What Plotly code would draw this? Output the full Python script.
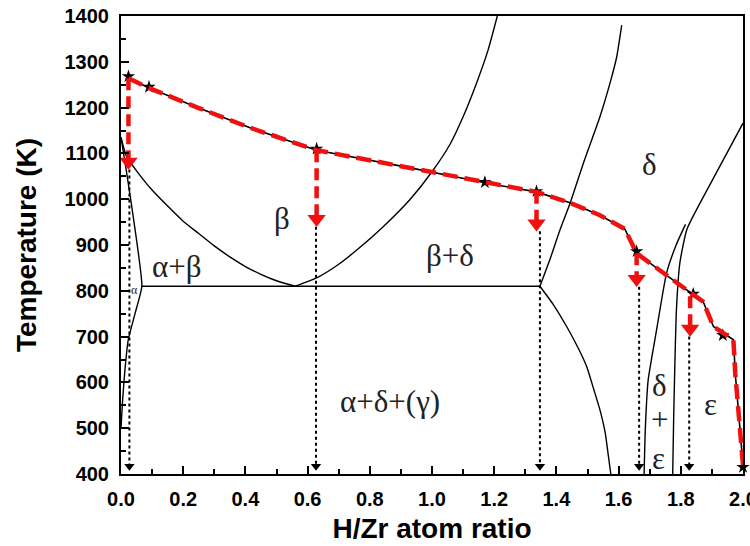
import plotly.graph_objects as go

# ---- phase boundary curves (H/Zr ratio, Temperature K) ----
beta_delta_x = [0.56, 0.634, 0.70, 0.76, 0.843, 0.93, 1.0, 1.058, 1.10, 1.144, 1.18, 1.21]
beta_delta_y = [810, 830, 858, 890, 940, 1000, 1060, 1120, 1180, 1255, 1325, 1400]

beta_ab_x = [0.0, 0.018, 0.05, 0.1, 0.15, 0.2, 0.25, 0.3, 0.35, 0.4, 0.45, 0.5, 0.56]
beta_ab_y = [1135, 1093, 1062, 1020, 985, 952, 925, 898, 874, 853, 836, 822, 810]

alpha_x = [0.0, 0.02, 0.05, 0.067, 0.045, 0.023, 0.013, 0.005, 0.0]
alpha_y = [1135, 1050, 911, 810, 750, 692, 630, 560, 500]

eutectoid_x = [0.067, 1.347]
eutectoid_y = [810, 810]

delta_up_x = [1.347, 1.38, 1.41, 1.444, 1.49, 1.54, 1.575, 1.594, 1.61]
delta_up_y = [810, 870, 930, 991, 1085, 1180, 1260, 1311, 1380]

delta_low_x = [1.347, 1.39, 1.433, 1.47, 1.497, 1.52, 1.54, 1.557, 1.567, 1.575]
delta_low_y = [810, 770, 722, 675, 635, 585, 540, 490, 440, 400]

eps_x = [2.0, 1.905, 1.82, 1.797, 1.786, 1.781, 1.777, 1.774]
eps_y = [1166, 1046, 935, 861, 760, 642, 520, 400]

de_x = [1.815, 1.785, 1.754, 1.722, 1.695, 1.686, 1.682]
de_y = [945, 900, 838, 714, 605, 500, 400]

# ---- experimental path (red dashed, black solid under it) ----
path_x = [0.024, 0.093, 0.25, 0.415, 0.629, 0.918, 1.208, 1.336, 1.444, 1.54, 1.62,
          1.642, 1.658, 1.75, 1.84, 1.872, 1.905, 1.969, 1.972, 1.975, 1.985, 2.0]
path_y = [1264, 1242, 1199, 1156, 1107, 1070, 1031, 1016, 992, 965, 935,
          905, 882, 836, 791, 776, 722, 693, 660, 620, 540, 420]

star_x = [0.024, 0.09, 0.629, 1.17, 1.336, 1.658, 1.84, 1.935, 2.0]
star_y = [1268, 1245, 1110, 1037, 1017, 886, 793, 703, 415]

# red vertical arrows: start (on path), arrow-head centre
arrow_x = [0.024, 0.629, 1.336, 1.658, 1.83]
arrow_start = [1264, 1107, 1016, 882, 788]
arrow_head = [1082, 957, 947, 826, 717]

# black dotted drop lines: top, bottom arrowhead centre
drop_x = [0.027, 0.627, 1.347, 1.666, 1.827]
drop_top = [1065, 940, 930, 809, 700]
drop_bottom = [417, 417, 417, 417, 417]

labels = ["β", "β+δ", "α+δ+(γ)", "α+β", "δ", "δ", "+", "ε", "ε"]
label_x = [0.517, 1.058, 0.865, 0.18, 1.70, 1.733, 1.733, 1.727, 1.896]
label_y = [958, 878, 558, 853, 1075, 594, 518, 433, 551]

x_ticks = [0.0, 0.2, 0.4, 0.6, 0.8, 1.0, 1.2, 1.4, 1.6, 1.8, 2.0]
x_tick_text = ["0.0", "0.2", "0.4", "0.6", "0.8", "1.0", "1.2", "1.4", "1.6", "1.8", "2.0"]

fig = go.Figure()

curves = [(beta_delta_x, beta_delta_y), (beta_ab_x, beta_ab_y), (alpha_x, alpha_y),
          (eutectoid_x, eutectoid_y), (delta_up_x, delta_up_y), (delta_low_x, delta_low_y),
          (eps_x, eps_y), (de_x, de_y)]
for cx, cy in curves:
    fig.add_trace(go.Scatter(x=cx, y=cy, mode="lines",
                             line=dict(color="black", width=1.4, shape="spline", smoothing=0.5),
                             showlegend=False, hoverinfo="skip"))

# black dotted drop lines with arrowheads
for i in range(len(drop_x)):
    fig.add_trace(go.Scatter(x=[drop_x[i], drop_x[i]], y=[drop_top[i], drop_bottom[i]], mode="lines",
                             line=dict(color="black", width=2, dash="3px,3px"), showlegend=False))
fig.add_trace(go.Scatter(x=drop_x, y=drop_bottom, mode="markers",
                         marker=dict(symbol="triangle-down", size=9, color="black"), showlegend=False))

# black experimental line
fig.add_trace(go.Scatter(x=path_x, y=path_y, mode="lines", line=dict(color="black", width=1.6),
                         showlegend=False, cliponaxis=False))
fig.add_trace(go.Scatter(x=star_x, y=star_y, mode="markers",
                         marker=dict(symbol="star", size=10, color="black"), showlegend=False, cliponaxis=False))

# red dashed path
fig.add_trace(go.Scatter(x=path_x, y=path_y, mode="lines", line=dict(color="#f01010", width=4.5, dash="15px,7px"),
                         showlegend=False, cliponaxis=False))
# red arrows
for i in range(len(arrow_x)):
    fig.add_trace(go.Scatter(x=[arrow_x[i], arrow_x[i]], y=[arrow_start[i], arrow_head[i]], mode="lines",
                             line=dict(color="#f01010", width=4.5, dash="12px,6px"), showlegend=False))
fig.add_trace(go.Scatter(x=arrow_x, y=arrow_head, mode="markers",
                         marker=dict(symbol="triangle-down", size=16, color="#f01010"), showlegend=False))

for t, lx, ly in zip(labels, label_x, label_y):
    fig.add_annotation(x=lx, y=ly, text=t, showarrow=False,
                       font=dict(family="Liberation Serif", size=31, color="#222"))
fig.add_annotation(x=0.042, y=802, text="α", showarrow=False,
                   font=dict(family="Liberation Serif", size=12, color="#222"))

axis_common = dict(showline=True, linecolor="black", linewidth=2, mirror=True, showgrid=False,
                   zeroline=False, ticks="inside", ticklen=8, tickwidth=2, tickcolor="black",
                   ticklabeloverflow="allow", automargin=False,
                   tickfont=dict(family="Liberation Sans", size=20, color="black", weight="bold"))

fig.update_layout(
    width=750, height=546, margin=dict(l=121, r=7, t=16, b=72, autoexpand=False),
    paper_bgcolor="white", plot_bgcolor="white", showlegend=False,
    xaxis=dict(range=[0, 2.0], tickvals=x_ticks, ticktext=x_tick_text,
               minor=dict(dtick=0.1, tick0=0, ticks="inside", ticklen=5, tickwidth=2, tickcolor="black"),
               title=dict(text="H/Zr atom ratio", standoff=9,
                          font=dict(family="Liberation Sans", size=28, color="black", weight="bold")),
               ticklabelstandoff=6, **axis_common),
    yaxis=dict(range=[400, 1400], dtick=100, tick0=400,
               minor=dict(dtick=50, ticks="inside", ticklen=5, tickwidth=2, tickcolor="black"),
               title=dict(text="Temperature (K)", standoff=20,
                          font=dict(family="Liberation Sans", size=28, color="black", weight="bold")),
               ticklabelstandoff=6, **axis_common),
)

fig.write_html("out.html")
